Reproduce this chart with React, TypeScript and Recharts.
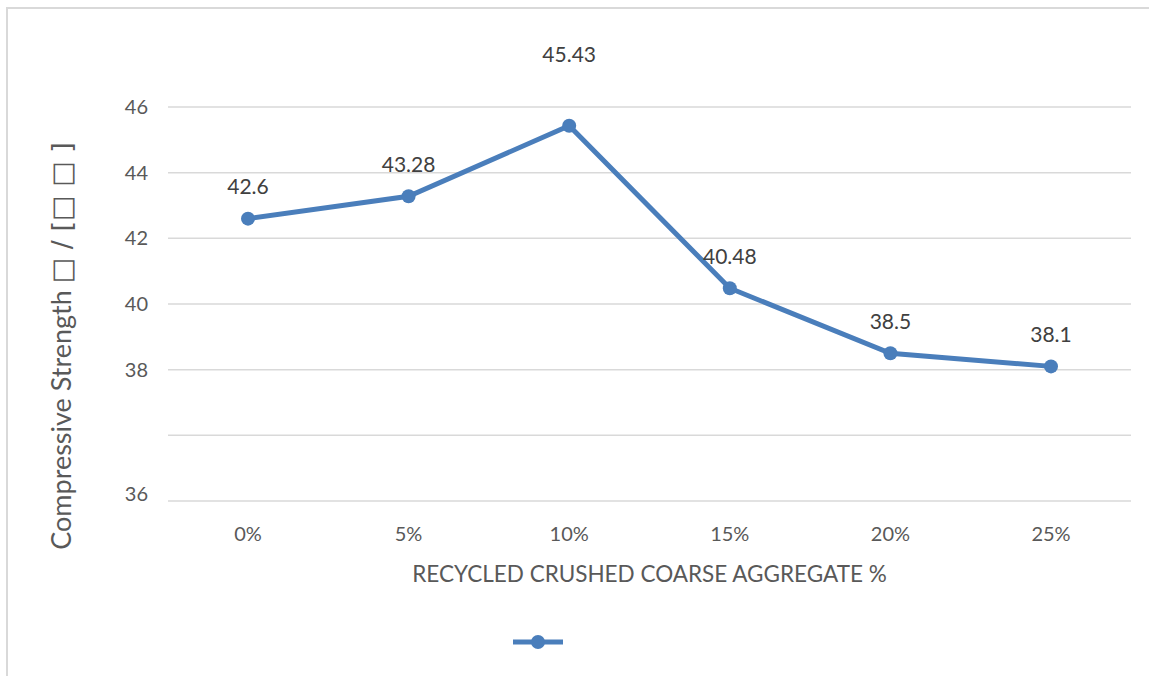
import React from 'react';
import { LineChart, Line, XAxis, YAxis, CartesianGrid, Legend, LabelList, Label } from 'recharts';

// Compressive strength vs. replacement level of recycled crushed coarse aggregate
const categories = ['0%', '5%', '10%', '15%', '20%', '25%'];
const strength = [42.6, 43.28, 45.43, 40.48, 38.5, 38.1];
const yTicks = [34, 36, 38, 40, 42, 44, 46];
const yTickLabels = ['36', '', '38', '40', '42', '44', '46'];

const data = categories.map((c, i) => ({ name: c, value: strength[i] }));
const peakIndex = strength.indexOf(Math.max(...strength));

const BLUE = '#4a7ebb';
const FONT = 'Lato, "Open Sans", sans-serif';
const BOX_FONT = '"DejaVu Sans", sans-serif';

const YTick = (props: any) => {
    const { x, y, payload, index } = props;
    const label = yTickLabels[yTicks.indexOf(payload.value)];
    return (
        <text x={x} y={y + (index === 0 ? -7 : 0)} dy="0.35em" textAnchor="end" fill="#595959" fontSize={20} fontFamily={FONT}>
            {label}
        </text>
    );
};

const XTick = (props: any) => {
    const { x, y, payload } = props;
    return (
        <text x={x} y={y} dy="0.71em" textAnchor="middle" fill="#595959" fontSize={20} fontFamily={FONT}>
            {payload.value}
        </text>
    );
};

const ValueLabel = (props: any) => {
    const { x, y, value, index } = props;
    const lift = index === peakIndex ? 71 : 32;
    return (
        <text x={x} y={y - lift} dy="0.35em" textAnchor="middle" fill="#404040" fontSize={21} fontFamily={FONT}>
            {value}
        </text>
    );
};

// unit glyphs are missing in the source font, so they show as boxes
const YTitle = () => (
    <text
        x={62}
        y={346}
        transform="rotate(-90 62 346)"
        dy="0.35em"
        textAnchor="middle"
        fill="#595959"
        fontSize={27}
        fontFamily={FONT}
    >
        <tspan>Compressive Strength </tspan>
        <tspan fontFamily={BOX_FONT}>{'\u25A1 / [\u25A1 \u25A1 ]'}</tspan>
    </text>
);

const LegendMark = () => (
    <div style={{ display: 'flex', justifyContent: 'center', paddingRight: 56 }}>
        <svg width={50} height={20}>
            <line x1={0} y1={10} x2={50} y2={10} stroke={BLUE} strokeWidth={5} />
            <circle cx={25} cy={10} r={7} fill={BLUE} />
        </svg>
    </div>
);

export default function App() {
    return (
        <div style={{ position: 'absolute', left: 0, top: 0, width: 1149, height: 676, overflow: 'hidden', background: '#fff' }}>
            <div
                style={{
                    position: 'absolute',
                    left: 6,
                    top: 7,
                    width: 1200,
                    height: 720,
                    borderLeft: '2px solid #d9d9d9',
                    borderTop: '2px solid #d9d9d9',
                }}
            />
            <div style={{ position: 'absolute', left: 0, top: 0 }}>
                <LineChart width={1149} height={676} data={data} margin={{ top: 107, right: 18, bottom: 14, left: 0 }}>
                    <CartesianGrid vertical={false} stroke="#d9d9d9" strokeWidth={1.5} />
                    <XAxis
                        dataKey="name"
                        axisLine={false}
                        tickLine={false}
                        tickSize={0}
                        tickMargin={26}
                        height={131}
                        padding={{ left: 80, right: 80 }}
                        tick={<XTick />}
                        interval={0}
                    >
                        <Label
                            value="RECYCLED CRUSHED COARSE AGGREGATE %"
                            position="insideBottom"
                            offset={50}
                            fill="#595959"
                            fontSize={22.5}
                            fontFamily={FONT}
                        />
                    </XAxis>
                    <YAxis
                        domain={[34, 46]}
                        ticks={yTicks}
                        interval={0}
                        axisLine={false}
                        tickLine={false}
                        tickSize={0}
                        tickMargin={20}
                        width={168}
                        tick={<YTick />}
                    >
                        <Label content={<YTitle />} />
                    </YAxis>
                    <Legend verticalAlign="bottom" height={30} content={<LegendMark />} />
                    <Line
                        type="linear"
                        dataKey="value"
                        stroke={BLUE}
                        strokeWidth={5}
                        dot={{ r: 7, fill: BLUE, stroke: BLUE, strokeWidth: 0 }}
                        activeDot={false}
                        isAnimationActive={false}
                    >
                        <LabelList dataKey="value" content={<ValueLabel />} />
                    </Line>
                </LineChart>
            </div>
        </div>
    );
}
